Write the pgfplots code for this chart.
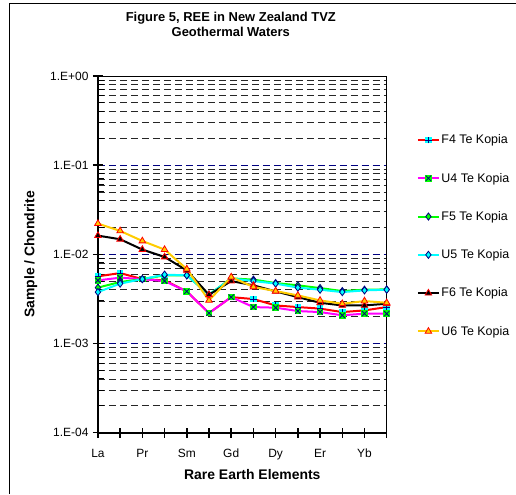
\documentclass[border=0pt]{standalone}
\usepackage{pgfplots}
\pgfplotsset{compat=1.18}
\usepackage{fontspec}
\setmainfont{Liberation Sans}
\definecolor{navy}{RGB}{0,0,128}
\definecolor{gold}{RGB}{255,204,0}
\definecolor{lime}{RGB}{0,255,0}
\definecolor{aqua}{RGB}{0,255,255}
\definecolor{mag}{RGB}{255,0,255}
\pgfdeclareplotmark{sqplus}{%
  \pgfpathrectangle{\pgfpoint{-\pgfplotmarksize}{-\pgfplotmarksize}}{\pgfpoint{2\pgfplotmarksize}{2\pgfplotmarksize}}%
  \pgfusepath{fill}%
  \pgfpathmoveto{\pgfpoint{-\pgfplotmarksize}{0pt}}\pgfpathlineto{\pgfpoint{\pgfplotmarksize}{0pt}}%
  \pgfpathmoveto{\pgfpoint{0pt}{-\pgfplotmarksize}}\pgfpathlineto{\pgfpoint{0pt}{\pgfplotmarksize}}%
  \pgfusepath{stroke}}
\pgfdeclareplotmark{sqx}{%
  \pgfpathrectangle{\pgfpoint{-\pgfplotmarksize}{-\pgfplotmarksize}}{\pgfpoint{2\pgfplotmarksize}{2\pgfplotmarksize}}%
  \pgfusepath{fill}%
  \pgfpathmoveto{\pgfpoint{-0.8\pgfplotmarksize}{-0.8\pgfplotmarksize}}\pgfpathlineto{\pgfpoint{0.8\pgfplotmarksize}{0.8\pgfplotmarksize}}%
  \pgfpathmoveto{\pgfpoint{-0.8\pgfplotmarksize}{0.8\pgfplotmarksize}}\pgfpathlineto{\pgfpoint{0.8\pgfplotmarksize}{-0.8\pgfplotmarksize}}%
  \pgfusepath{stroke}}
\pgfplotstableread{
x F4 U4 F5 U5 F6 U6
0 0.00566 0.00510 0.00423 0.00377 0.01620 0.02210
1 0.00616 0.00547 0.00489 0.00469 0.01475 0.01830
2 0.00527 0.00527 0.00527 0.00527 0.01130 0.01410
3 0.00510 0.00501 0.00581 0.00591 0.00933 0.01130
4 0.00384 0.00384 0.00581 0.00581 0.00660 0.00684
5 0.00219 0.00219 0.00352 0.00352 0.00352 0.00304
6 0.00331 0.00331 0.00537 0.00537 0.00501 0.00556
7 0.00315 0.00256 0.00520 0.00501 0.00449 0.00430
8 0.00267 0.00252 0.00476 0.00469 0.00384 0.00387
9 0.00256 0.00231 0.00449 0.00423 0.00331 0.00346
10 0.00246 0.00225 0.00418 0.00401 0.00286 0.00304
11 0.00225 0.00207 0.00387 0.00377 0.00267 0.00279
12 0.00235 0.00216 0.00401 0.00394 0.00267 0.00299
13 0.00256 0.00216 0.00404 0.00401 0.00279 0.00286
}\ree
\begin{document}
\begin{tikzpicture}
\path (0,0) rectangle (516bp,494bp);
\draw[line width=0.8bp] (9bp,0) -- (9bp,491bp) -- (516bp,491bp);
\node[font=\fontsize{13}{15}\selectfont\bfseries, align=center] at (231bp,470bp) {Figure 5, REE in New Zealand TVZ\\Geothermal Waters};
\begin{axis}[
  at={(98bp,61bp)}, anchor=south west,
  scale only axis, width=289bp, height=357bp,
  ymode=log, ymin=1e-4, ymax=1,
  xmin=0, xmax=13,
  xtick={0,...,13},
  xticklabels={La,,Pr,,Sm,,Gd,,Dy,,Er,,Yb,},
  ytick={1e-4,1e-3,1e-2,1e-1,1},
  yticklabels={1.E-04,1.E-03,1.E-02,1.E-01,1.E+00},
  minor ytick={2e-4,3e-4,4e-4,5e-4,6e-4,7e-4,8e-4,9e-4,2e-3,3e-3,4e-3,5e-3,6e-3,7e-3,8e-3,9e-3,2e-2,3e-2,4e-2,5e-2,6e-2,7e-2,8e-2,9e-2,2e-1,3e-1,4e-1,5e-1,6e-1,7e-1,8e-1,9e-1},
  ymajorgrids, yminorgrids,
  major grid style={navy, line width=0.7bp, dash pattern=on 7bp off 4bp},
  minor grid style={black!85, line width=0.8bp, dash pattern=on 7bp off 4bp},
  tick align=center, major tick length=10bp, minor tick length=6bp,
  tick pos=left,
  every tick/.style={black, line width=1.5bp},
  every minor tick/.append style={xshift=3bp, line width=1bp},
  axis line style={black, line width=0.6bp},
  ticklabel style={font=\fontsize{12}{14}\selectfont},
  yticklabel style={xshift=-1bp},
  xticklabel style={yshift=-8bp},
  xlabel={Rare Earth Elements},
  ylabel={Sample / Chondrite},
  label style={font=\fontsize{14}{16}\selectfont\bfseries},
  xlabel style={xshift=10bp, yshift=-3bp},
  ylabel style={yshift=6bp},
  legend style={at={(1.104,0.84)}, anchor=north west, draw=none, fill=none,
    inner sep=0pt, row sep=24.8bp, font=\fontsize{12.5}{14}\selectfont,
    nodes={inner sep=1.5bp, anchor=west}},
  legend cell align=left,
  legend image code/.code={\draw[mark repeat=2, mark phase=2] plot coordinates {(0bp,0bp)(10.5bp,0bp)(21bp,0bp)};},
  clip=false,
]
\draw[line width=2bp, black] (rel axis cs:0,1) -- (rel axis cs:0,0) -- (rel axis cs:1,0);
\addplot[red, line width=2bp, mark=sqplus, mark size=3.3bp, mark options={fill=aqua, draw=navy, line width=0.8bp}] table[x=x, y=F4] {\ree};
\addlegendentry{F4 Te Kopia}
\addplot[mag, line width=2bp, mark=sqx, mark size=3.3bp, mark options={fill=lime, draw=navy, line width=0.8bp}] table[x=x, y=U4] {\ree};
\addlegendentry{U4 Te Kopia}
\addplot[lime, line width=2bp, mark=diamond*, mark size=3.6bp, mark options={fill=lime, draw=navy, line width=0.8bp}] table[x=x, y=F5] {\ree};
\addlegendentry{F5 Te Kopia}
\addplot[aqua, line width=2bp, mark=diamond*, mark size=3.6bp, mark options={fill=aqua, draw=navy, line width=0.8bp}] table[x=x, y=U5] {\ree};
\addlegendentry{U5 Te Kopia}
\addplot[black, line width=2bp, mark=triangle*, mark size=3.8bp, mark options={fill=black, draw=red, line width=0.8bp}] table[x=x, y=F6] {\ree};
\addlegendentry{F6 Te Kopia}
\addplot[gold, line width=2bp, mark=triangle*, mark size=3.8bp, mark options={fill=gold, draw=red, line width=0.8bp}] table[x=x, y=U6] {\ree};
\addlegendentry{U6 Te Kopia}
\end{axis}
\end{tikzpicture}
\end{document}
